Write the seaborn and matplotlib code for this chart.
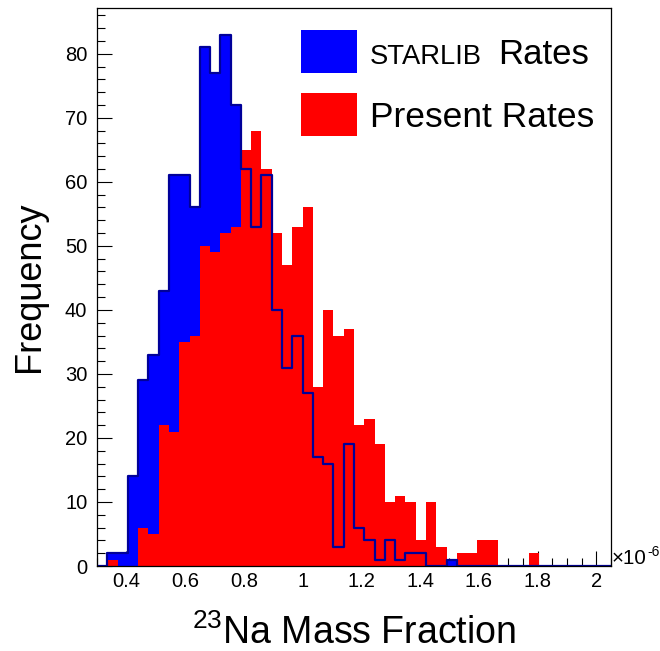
import numpy as np
import pandas as pd
import matplotlib
matplotlib.use("Agg")
import matplotlib.pyplot as plt
from matplotlib.patches import Rectangle
from matplotlib.ticker import MultipleLocator, FuncFormatter
import seaborn as sns

# ---- data (counts per bin, 50 bins from 0.30e-6 to 2.05e-6) ----
x_min, x_max, n_bins = 0.30, 2.05, 50
starlib_counts = [0, 2, 2, 14, 29, 33, 43, 61, 61, 56,
                  81, 77, 83, 72, 62, 53, 61, 40, 31, 36,
                  27, 17, 16, 3, 19, 6, 4, 1, 4, 1,
                  2, 2, 0, 0, 1, 0, 0, 0, 0, 0,
                  0, 0, 0, 0, 0, 0, 0, 0, 0, 0]
present_counts = [0, 1, 0, 0, 6, 5, 22, 21, 35, 36,
                  50, 49, 52, 53, 65, 68, 62, 52, 47, 53,
                  56, 28, 40, 36, 37, 22, 23, 19, 10, 11,
                  10, 4, 10, 3, 0, 2, 2, 4, 4, 0,
                  0, 0, 2, 0, 0, 0, 0, 0, 0, 0]
x_ticks = [0.4, 0.6, 0.8, 1.0, 1.2, 1.4, 1.6, 1.8, 2.0]
legend_labels = ["STARLIB", "Rates", "Present Rates"]

edges = np.linspace(x_min, x_max, n_bins + 1)
centers = 0.5 * (edges[:-1] + edges[1:])
df = pd.DataFrame({"x": centers, "starlib": starlib_counts, "present": present_counts})

sns.set_style("white")
plt.rcParams["font.family"] = ["Liberation Sans", "DejaVu Sans"]
plt.rcParams["mathtext.fontset"] = "custom"
plt.rcParams["mathtext.rm"] = "Liberation Sans"
plt.rcParams["mathtext.it"] = "Liberation Sans:italic"
for k in ["text.color", "axes.labelcolor", "xtick.color", "ytick.color"]:
    plt.rcParams[k] = "black"

fig = plt.figure(figsize=(6.6, 6.51), dpi=100)
W, H = 660, 651
ax_l, ax_r, ax_t, ax_b = 97, 611, 8, 566
ax = fig.add_axes([ax_l / W, 1 - ax_b / H, (ax_r - ax_l) / W, (ax_b - ax_t) / H])

common = dict(data=df, x="x", bins=n_bins, binrange=(x_min, x_max),
              element="step", ax=ax)
sns.histplot(weights="starlib", fill=True, color="#0000ff", alpha=1,
             linewidth=0, **common)
sns.histplot(weights="present", fill=True, color="#ff0000", alpha=1,
             linewidth=0, **common)
sns.histplot(weights="starlib", fill=False, color="#000099", linewidth=1.6,
             **common)

ax.set_xlim(x_min, x_max)
ax.set_ylim(0, 87.15)

ax.set_xticks(x_ticks)
ax.xaxis.set_minor_locator(MultipleLocator(0.05))
ax.yaxis.set_major_locator(MultipleLocator(10))
ax.yaxis.set_minor_locator(MultipleLocator(2))
ax.xaxis.set_major_formatter(FuncFormatter(lambda v, p: f"{v:g}"))

ax.tick_params(axis="both", which="major", direction="in", length=11, width=0.8,
               color="black", labelcolor="black", labelsize=14.5)
ax.tick_params(axis="both", which="minor", direction="in", length=5.5, width=0.8,
               color="black")
ax.tick_params(axis="x", which="both", bottom=True, top=False, pad=4)
ax.tick_params(axis="y", which="both", left=True, right=False, pad=7)
for s in ax.spines.values():
    s.set_visible(True)
    s.set_color("black")
    s.set_linewidth(0.9)

ax.set_ylabel("Frequency", fontsize=26, color="black")
ax.yaxis.set_label_coords(-0.097, 0.5)
ax.set_xlabel(r"$\mathregular{^{23}}$Na Mass Fraction", fontsize=27, color="black")
ax.xaxis.set_label_coords(0.5, -0.086)

# legend (drawn manually, no frame) and exponent label
def fx(px):
    return px / W
def fy(py):
    return 1 - py / H

fig.text(fx(612), fy(564.5), "\u00d710", fontsize=14.8, ha="left", va="baseline",
         color="black")
fig.text(fx(647.5), fy(556), "-6", fontsize=10, ha="left", va="baseline",
         color="black")

fig.add_artist(Rectangle((fx(301), fy(73)), fx(357) - fx(301), fy(30) - fy(73),
                         transform=fig.transFigure, facecolor="#0000ff", edgecolor="none"))
fig.add_artist(Rectangle((fx(301), fy(136)), fx(357) - fx(301), fy(93) - fy(136),
                         transform=fig.transFigure, facecolor="#ff0000", edgecolor="none"))
fig.text(fx(370), fy(64), legend_labels[0], fontsize=19.7, ha="left", va="baseline",
         color="black")
fig.text(fx(498), fy(64), legend_labels[1], fontsize=25, ha="left", va="baseline",
         color="black")
fig.text(fx(370), fy(127), legend_labels[2], fontsize=25.5, ha="left", va="baseline",
         color="black")

fig.savefig("out.png", dpi=100)
